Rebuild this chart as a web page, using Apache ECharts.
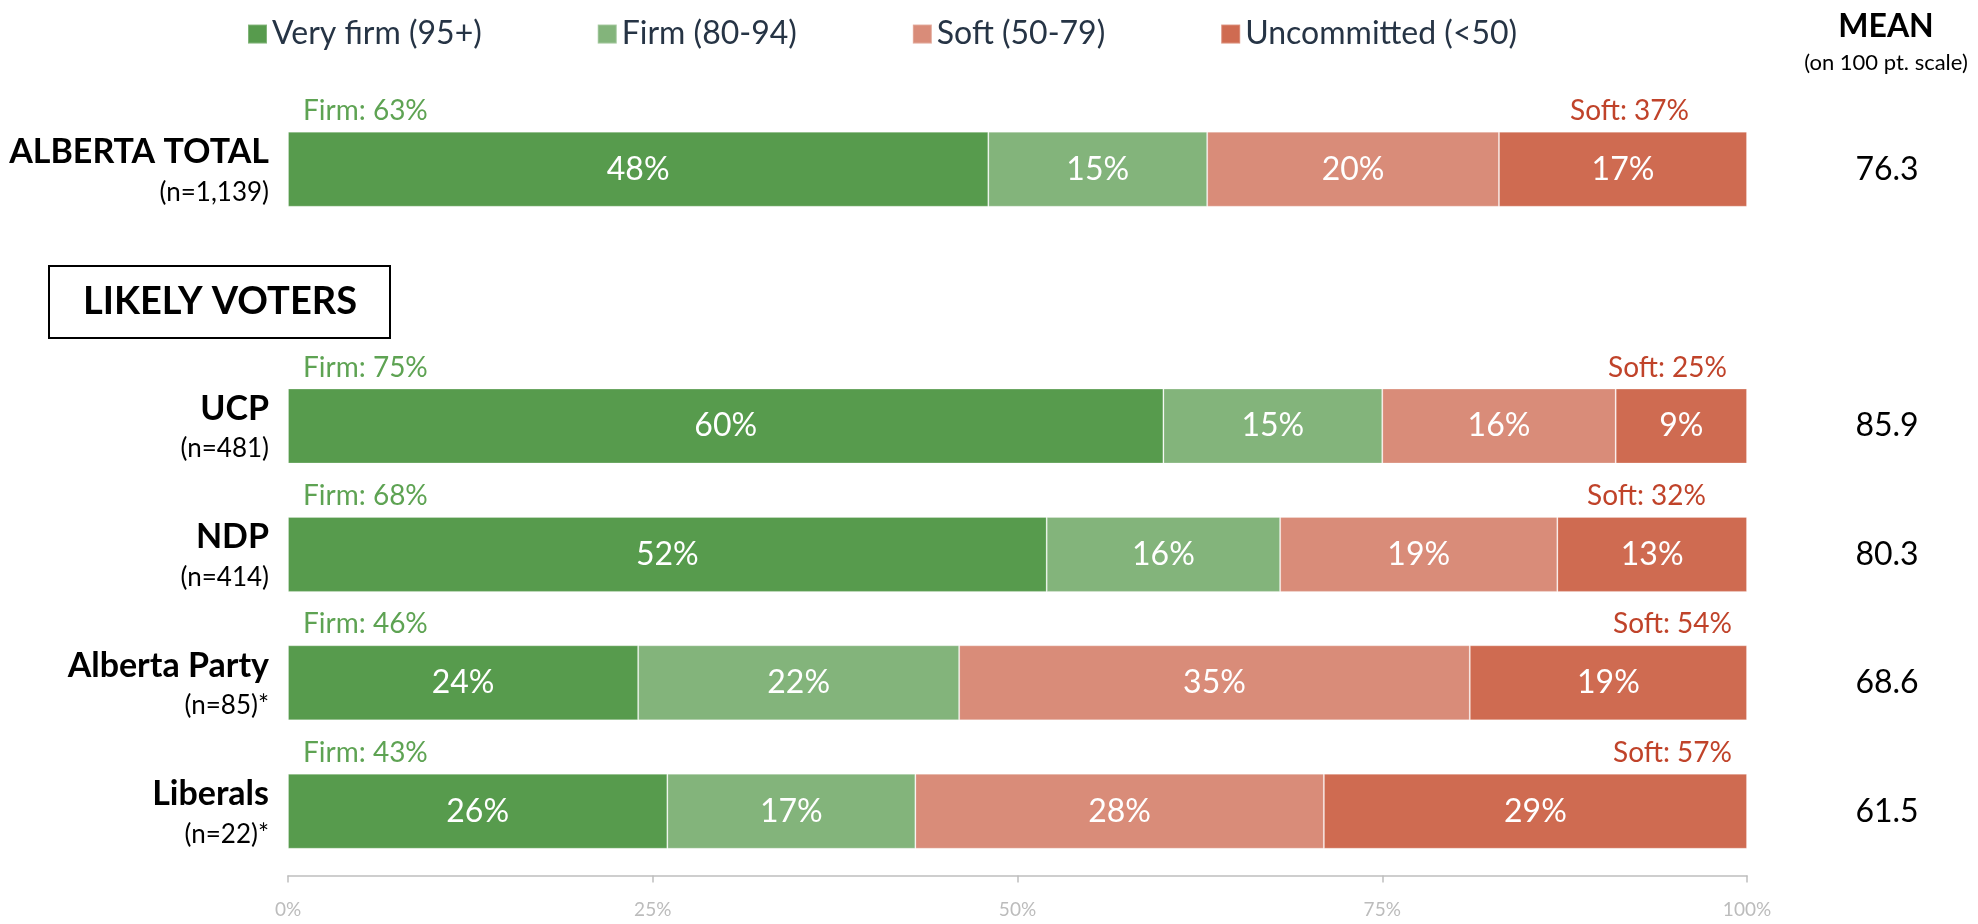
<style>
    html, body {
        margin: 0;
        overflow: hidden;
        background: #fff;
    }
</style>
<div id="bar" style="width:1978px; height:924px;"></div>
<script src="https://cdn.jsdelivr.net/npm/echarts@6/dist/echarts.min.js"></script>
<script>
    // rows (the empty one is the "LIKELY VOTERS" gap)
    var categories = ['ALBERTA TOTAL', '', 'UCP', 'NDP', 'Alberta Party', 'Liberals'];
    var sampleSizes = ['(n=1,139)', '', '(n=481)', '(n=414)', '(n=85)*', '(n=22)*'];
    var means = ['76.3', '', '85.9', '80.3', '68.6', '61.5'];

    var veryFirm = [48, '-', 60, 52, 24, 26];
    var firm = [15, '-', 15, 16, 22, 17];
    var soft = [20, '-', 16, 19, 35, 28];
    var uncommitted = [17, '-', 9, 13, 19, 29];

    var firmTotal = [63, '-', 75, 68, 46, 43];
    var softTotal = [37, '-', 25, 32, 54, 57];

    var seriesNames = ['Very firm (95+)', 'Firm (80-94)', 'Soft (50-79)', 'Uncommitted (<50)'];
    var colors = ['#579b4d', '#83b47b', '#d98c79', '#cf6b51'];

    // how far each "Soft:" tag sits left of the bar end (px)
    var softShift = [58, 14, 20, 41, 15, 15];

    var FONT = 'Lato';
    var chart = echarts.init(document.getElementById('bar'), null, {renderer: 'canvas'});

    function stackSeries(name, data, color) {
        return {
            name: name,
            type: 'bar',
            stack: 'total',
            barWidth: 75,
            data: data,
            itemStyle: {color: color, borderColor: 'rgba(255,255,255,0.25)', borderWidth: 1},
            label: {
                show: true,
                position: 'inside',
                formatter: '{c}%',
                color: '#fff',
                fontFamily: FONT,
                fontSize: 32
            },
            emphasis: {disabled: true}
        };
    }

    var series = [
        stackSeries(seriesNames[0], veryFirm, colors[0]),
        stackSeries(seriesNames[1], firm, colors[1]),
        stackSeries(seriesNames[2], soft, colors[2]),
        stackSeries(seriesNames[3], uncommitted, colors[3]),
        {
            name: 'firmTag',
            type: 'bar',
            stack: 'tag',
            barWidth: 75,
            barGap: '-100%',
            silent: true,
            data: firmTotal,
            itemStyle: {color: 'rgba(0,0,0,0)'},
            label: {
                show: true,
                position: [15, -21],
                align: 'left',
                verticalAlign: 'middle',
                formatter: 'Firm: {c}%',
                color: '#5ea353',
                fontFamily: FONT,
                fontSize: 28
            }
        },
        {
            name: 'softTag',
            type: 'bar',
            stack: 'tag',
            barWidth: 75,
            barGap: '-100%',
            silent: true,
            data: softTotal.map(function (v, i) {
                return {value: v, label: {offset: [-softShift[i], 0]}};
            }),
            itemStyle: {color: 'rgba(0,0,0,0)'},
            label: {
                show: true,
                position: ['100%', -21],
                align: 'right',
                verticalAlign: 'middle',
                formatter: 'Soft: {c}%',
                color: '#c0432a',
                fontFamily: FONT,
                fontSize: 28
            }
        }
    ];

    chart.setOption({
        animation: false,
        legend: {
            data: seriesNames,
            left: 247,
            top: 10,
            padding: 0,
            itemWidth: 19,
            itemHeight: 19,
            itemGap: 115,
            icon: 'rect',
            textStyle: {fontFamily: FONT, fontSize: 32, color: '#263445'}
        },
        grid: {left: 288, right: 231, top: 105, bottom: 39},
        xAxis: {
            type: 'value',
            min: 0,
            max: 100,
            interval: 25,
            axisLine: {show: true, lineStyle: {color: '#bfbfbf', width: 1.5}},
            axisTick: {show: true, length: 7, lineStyle: {color: '#bfbfbf', width: 1.5}},
            splitLine: {show: false},
            axisLabel: {formatter: '{value}%', color: '#bcbcbc', fontFamily: FONT, fontSize: 19, margin: 20}
        },
        yAxis: [
            {
                type: 'category',
                data: categories,
                inverse: true,
                axisLine: {show: false},
                axisTick: {show: false},
                axisLabel: {
                    margin: 19,
                    align: 'right',
                    formatter: function (value, idx) {
                        if (!value) return '';
                        return '{b|' + value + '}\n{n|' + sampleSizes[idx] + '}';
                    },
                    rich: {
                        b: {fontFamily: FONT, fontWeight: 'bold', fontSize: 34, lineHeight: 46, color: '#000', align: 'right'},
                        n: {fontFamily: FONT, fontSize: 26, lineHeight: 34, color: '#000', align: 'right'}
                    }
                }
            },
            {
                type: 'category',
                data: means,
                inverse: true,
                position: 'right',
                axisLine: {show: false},
                axisTick: {show: false},
                axisLabel: {margin: 140, align: 'center', color: '#000', fontFamily: FONT, fontSize: 32}
            }
        ],
        graphic: [
            {
                type: 'rect',
                shape: {x: 49, y: 266, width: 341, height: 72},
                style: {fill: '#fff', stroke: '#000', lineWidth: 2}
            },
            {
                type: 'text',
                x: 220,
                y: 302,
                style: {text: 'LIKELY VOTERS', fill: '#000', font: 'bold 38px Lato', textAlign: 'center', textVerticalAlign: 'middle'}
            },
            {
                type: 'text',
                x: 1886,
                y: 27,
                style: {text: 'MEAN', fill: '#000', font: 'bold 32px Lato', textAlign: 'center', textVerticalAlign: 'middle'}
            },
            {
                type: 'text',
                x: 1886,
                y: 63,
                style: {text: '(on 100 pt. scale)', fill: '#000', font: '22px Lato', textAlign: 'center', textVerticalAlign: 'middle'}
            }
        ],
        series: series
    });
</script>
